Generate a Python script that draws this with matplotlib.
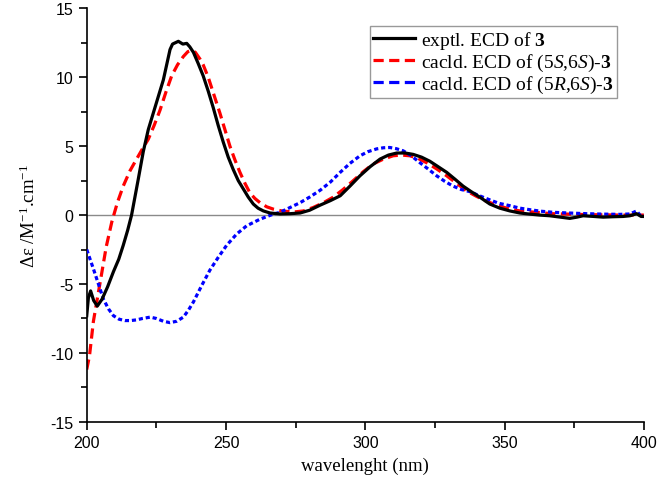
import matplotlib
matplotlib.use("Agg")
import matplotlib.pyplot as plt
from matplotlib.lines import Line2D
from matplotlib.ticker import MultipleLocator

# experimental ECD
exp_wl = [200, 200.6, 201.4, 202.5, 203.8, 205.5, 207.5, 209.6, 211.5, 213.1, 214.7, 216.1, 218.5,
          220.3, 222.1, 224.5, 227.5, 229.9, 230.8, 232.9, 234.5, 235.9, 237, 238.3, 240, 241.8,
          243.6, 245.4, 247.2, 249, 250.8, 252.6, 254.4, 256.2, 258, 259.8, 261.5, 263.4, 265.8,
          269.4, 273, 276.6, 280, 283.8, 287.5, 291, 294.5, 298.1, 301.7, 305.3, 308.3, 311.3,
          314.3, 317.2, 320.2, 323.2, 326.2, 329.2, 332.2, 335.1, 338, 341.1, 344.7, 348.3,
          351.9, 355.5, 359, 362.6, 366.2, 370, 373.4, 376, 378.2, 382, 385.4, 389, 392.6, 395,
          397.4, 399, 400]
exp_de = [-7.3, -6.0, -5.5, -6.2, -6.6, -6.1, -5.2, -4.1, -3.2, -2.2, -1.1, 0.0, 2.6,
          4.6, 6.2, 7.8, 9.8, 12.0, 12.4, 12.6, 12.4, 12.45, 12.2, 11.8, 11.0, 10.1,
          9.0, 7.8, 6.5, 5.3, 4.2, 3.3, 2.5, 1.9, 1.3, 0.8, 0.5, 0.3, 0.15,
          0.08, 0.1, 0.15, 0.35, 0.72, 1.05, 1.4, 2.1, 2.85, 3.5, 4.06, 4.35, 4.5,
          4.5, 4.4, 4.2, 3.9, 3.5, 3.1, 2.6, 2.1, 1.7, 1.3, 0.8, 0.5,
          0.3, 0.15, 0.07, 0.0, -0.05, -0.15, -0.24, -0.15, -0.05, -0.1, -0.15, -0.12, -0.1, -0.05,
          0.1, -0.1, -0.1]

# calculated (5S,6S)
ss_wl = [200, 201, 202.4, 204.8, 207, 209, 211, 213.1, 215.5, 217.9, 220, 222.1, 224.2, 226.3,
         228.4, 230.5, 232.6, 234.7, 236.3, 237.7, 239, 240.7, 241.8, 243.6, 245.7,
         247.8, 249.6, 251.4, 253.2, 255, 256.8, 258.6, 260.4, 262.2, 264.6, 267, 270, 274.2,
         277.8, 281.3, 285, 288.5, 292, 295.7, 299.3, 302.8, 306.4, 310, 313, 316, 319, 322,
         325.6, 329.2, 332.8, 336.3, 340, 343.5, 347.5, 351.9, 355.5, 359, 367, 380, 392, 400]
ss_de = [-11.2, -10.2, -7.7, -4.9, -2.3, -0.5, 0.9, 2.1, 3.2, 4.06, 4.8, 5.5, 6.5, 7.6,
         8.9, 10.1, 10.9, 11.5, 11.85, 11.95, 11.8, 11.3, 10.9, 10.0, 8.7,
         7.4, 6.2, 5.0, 4.0, 3.1, 2.3, 1.6, 1.2, 0.9, 0.6, 0.43, 0.3, 0.22,
         0.3, 0.55, 0.9, 1.3, 1.85, 2.5, 3.15, 3.7, 4.05, 4.3, 4.35, 4.3, 4.1, 3.8,
         3.35, 2.85, 2.3, 1.76, 1.35, 1.0, 0.7, 0.43, 0.3, 0.24, 0.1, 0.03, 0.0, 0.0]

# calculated (5R,6S)
rs_wl = [200, 202.4, 204.2, 206, 207.8, 209.6, 211.6, 213.7, 215.8, 217.9, 220, 222.8, 225,
         227.5, 229.9, 232.3, 234.7, 236.5, 238.3, 241.3, 244.2, 247.2, 250.2, 253.8, 257.4,
         262.2, 267, 269.4, 272.5, 276.6, 280, 283.8, 287.5, 291, 294.5, 298.1, 301,
         304.1, 306.5, 308.8, 311, 313.6, 316.5, 319.6, 322.5, 325.6, 328.5, 331.5, 334.5,
         337.5, 341, 344.7, 348, 351.9, 355.5, 359, 363, 367.4, 373, 379.4, 385, 391.4, 395,
         397.4, 399, 400]
rs_de = [-2.5, -3.9, -5.0, -6.1, -6.8, -7.3, -7.55, -7.65, -7.65, -7.6, -7.5, -7.4, -7.5,
         -7.7, -7.8, -7.7, -7.4, -6.9, -6.3, -5.1, -4.0, -3.07, -2.2, -1.38, -0.78,
         -0.3, 0.07, 0.2, 0.5, 0.9, 1.3, 1.8, 2.4, 3.1, 3.75, 4.3, 4.6,
         4.8, 4.88, 4.9, 4.82, 4.66, 4.3, 3.8, 3.35, 2.85, 2.45, 2.1, 1.85,
         1.7, 1.4, 1.1, 0.85, 0.68, 0.5, 0.39, 0.28, 0.2, 0.15, 0.1, 0.07, 0.05, 0.08,
         0.3, -0.1, -0.1]

labels = [r"exptl. ECD of $\mathbf{3}$",
          r"cacld. ECD of (5$\mathit{S}$,6$\mathit{S}$)-$\mathbf{3}$",
          r"cacld. ECD of (5$\mathit{R}$,6$\mathit{S}$)-$\mathbf{3}$"]

plt.rcParams["axes.unicode_minus"] = False
plt.rcParams["mathtext.fontset"] = "custom"
plt.rcParams["mathtext.rm"] = "Liberation Serif"
plt.rcParams["mathtext.it"] = "Liberation Serif:italic"
plt.rcParams["mathtext.bf"] = "Liberation Serif:bold"

fig = plt.figure(figsize=(6.57, 4.85), dpi=100)
ax = fig.add_axes([0.132, 0.128, 0.848, 0.853])

ax.axhline(0, color="#8a8a8a", lw=1.0, zorder=1)
ax.plot(ss_wl, ss_de, color="#ff0000", lw=2.3, dashes=(3.2, 1.7), zorder=2)
ax.plot(rs_wl, rs_de, color="#0000ff", lw=2.3, dashes=(1.3, 0.9), zorder=3)
ax.plot(exp_wl, exp_de, color="black", lw=2.3, zorder=4)

ax.set_xlim(200, 400)
ax.set_ylim(-15, 15)
ax.xaxis.set_major_locator(MultipleLocator(50))
ax.xaxis.set_minor_locator(MultipleLocator(25))
ax.yaxis.set_major_locator(MultipleLocator(5))
ax.yaxis.set_minor_locator(MultipleLocator(2.5))
for s in ["top", "right"]:
    ax.spines[s].set_visible(False)
for s in ["left", "bottom"]:
    ax.spines[s].set_linewidth(1.2)
ax.tick_params(which="major", direction="out", length=6, width=1.2, labelsize=11.5,
               colors="black")
ax.tick_params(which="minor", direction="out", length=4, width=1.2)
for lab in ax.get_xticklabels() + ax.get_yticklabels():
    lab.set_fontfamily("Liberation Sans")

ax.set_xlabel("wavelenght (nm)", fontfamily="Liberation Serif", fontsize=13.5, labelpad=5)
ax.set_ylabel(r"Δε /M$^{\mathregular{-1}}$.cm$^{\mathregular{-1}}$", fontfamily="Liberation Serif",
              fontsize=13.5, labelpad=8)

handles = [Line2D([], [], color="black", lw=2.3),
           Line2D([], [], color="#ff0000", lw=2.3, dashes=(3.2, 1.7)),
           Line2D([], [], color="#0000ff", lw=2.3, dashes=(3.2, 1.7))]
leg = ax.legend(handles, labels, loc="upper right", bbox_to_anchor=(0.951, 0.957),
                prop={"family": "Liberation Serif", "size": 14}, frameon=True, fancybox=False,
                edgecolor="#808080", handlelength=2.2, handletextpad=0.3, borderpad=0.15,
                labelspacing=0.05, borderaxespad=0)
leg.get_frame().set_linewidth(1.0)

fig.savefig("out.png", dpi=100)
